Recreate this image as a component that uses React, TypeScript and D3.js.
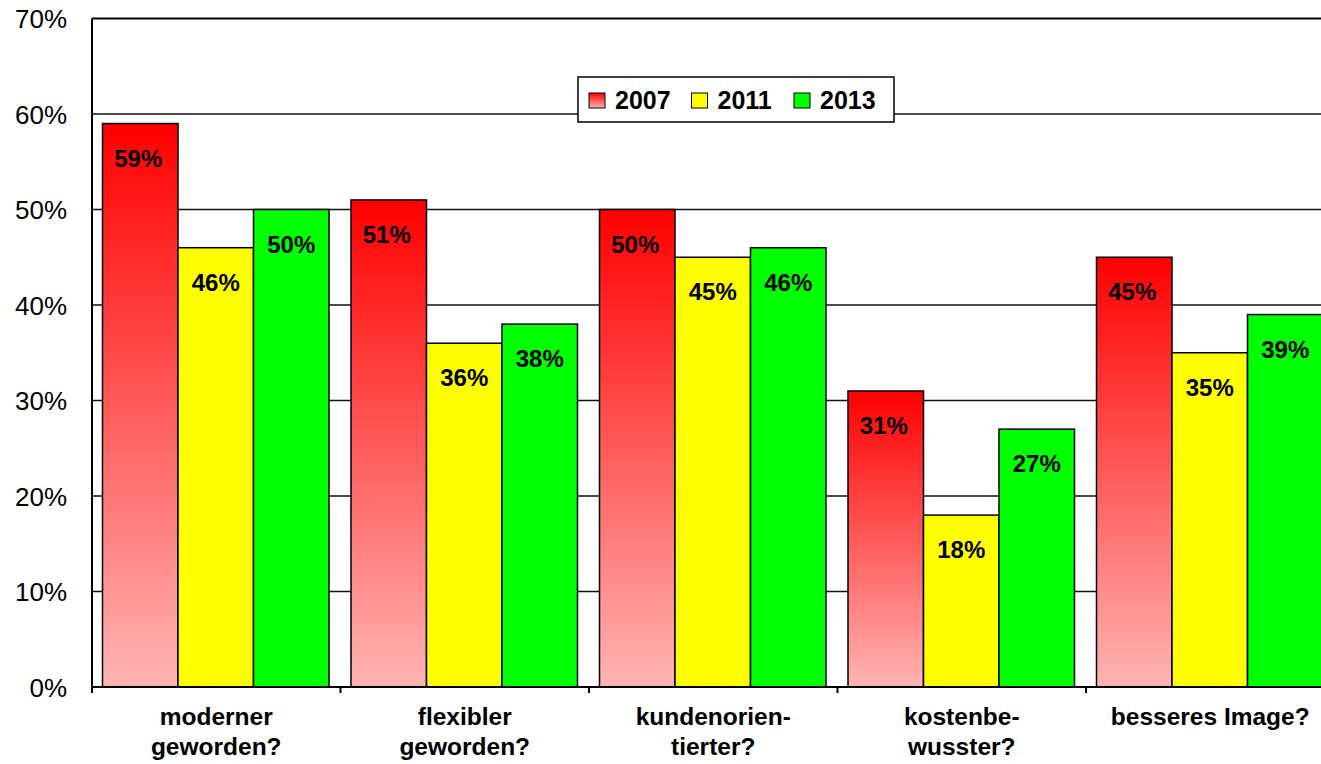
import React from "react";
import * as d3 from "d3";

const categories = ["moderner geworden?", "flexibler geworden?", "kundenorien-tierter?", "kostenbe-wusster?", "besseres Image?"];
const categoryLines = [["moderner", "geworden?"], ["flexibler", "geworden?"], ["kundenorien-", "tierter?"], ["kostenbe-", "wusster?"], ["besseres Image?"]];
const seriesNames = ["2007", "2011", "2013"];
const values2007 = [59, 51, 50, 31, 45];
const values2011 = [46, 36, 45, 18, 35];
const values2013 = [50, 38, 46, 27, 39];
const yTicks = [0, 10, 20, 30, 40, 50, 60, 70];
const seriesFills = ["url(#redGrad)", "#FFFF00", "#00FF00"];

export default function App() {
  const W = 1321, H = 764;
  const left = 92, top = 18.5, bottom = 687;
  const bandW = 248.5;
  const right = left + bandW * categories.length;
  const x = d3.scaleBand<string>().domain(categories).range([left, right]).padding(0);
  const inner = d3.scaleBand<string>().domain(seriesNames).range([10.5, 10.5 + 226.5]).padding(0);
  const y = d3.scaleLinear().domain([0, 70]).range([bottom, top]);
  const seriesValues = [values2007, values2011, values2013];
  const font = "Arial, 'Liberation Sans', sans-serif";

  return (
    <div style={{ position: "fixed", left: 0, top: 0, width: W, height: H, overflow: "hidden", background: "#fff" }}>
      <svg width={W} height={H} style={{ display: "block" }} fontFamily={font}>
        <defs>
          <linearGradient id="redGrad" x1="0" y1="0" x2="0" y2="1">
            <stop offset="0%" stopColor="#FF0000" />
            <stop offset="100%" stopColor="#FFB4B4" />
          </linearGradient>
        </defs>
        {/* gridlines */}
        {yTicks.map((t) => (
          <line key={"g" + t} x1={left} x2={right} y1={y(t)} y2={y(t)} stroke={t === 70 ? "#000" : "#111"} strokeWidth={t === 70 ? 2 : 1.3} />
        ))}
        {/* bars */}
        {categories.map((c, ci) =>
          seriesNames.map((s, si) => {
            const v = seriesValues[si][ci];
            const bx = (x(c) as number) + (inner(s) as number);
            const bw = inner.bandwidth();
            const by = y(v);
            return (
              <g key={c + s}>
                <rect x={bx} y={by} width={bw} height={bottom - by} fill={seriesFills[si]} stroke="#000" strokeWidth={1.5} />
                <text x={bx + bw / 2 - (si === 0 ? 2 : 0)} y={by + 43} textAnchor="middle" fontWeight="bold" fontSize={24} fill="#000">{v}%</text>
              </g>
            );
          })
        )}
        {/* axes */}
        <line x1={left} x2={left} y1={top} y2={bottom + 6} stroke="#000" strokeWidth={2} />
        <line x1={left} x2={right} y1={bottom} y2={bottom} stroke="#000" strokeWidth={2} />
        {categories.map((c) => (
          <line key={"t" + c} x1={x(c) as number} x2={x(c) as number} y1={bottom} y2={bottom + 6} stroke="#000" strokeWidth={2} />
        ))}
        {/* y tick labels */}
        {yTicks.map((t) => (
          <text key={"yl" + t} x={67} y={y(t) + 9.5} textAnchor="end" fontSize={26} fill="#000">{t}%</text>
        ))}
        {/* category labels */}
        {categories.map((c, ci) => (
          <text key={"cl" + c} textAnchor="middle" fontWeight="bold" fontSize={24.5} fill="#000">
            {categoryLines[ci].map((ln, li) => (
              <tspan key={li} x={(x(c) as number) + bandW / 2} y={725 + li * 30}>{ln}</tspan>
            ))}
          </text>
        ))}
        {/* legend */}
        <g>
          <rect x={578} y={77} width={316} height={45} fill="#fff" stroke="#000" strokeWidth={1.5} />
          {seriesNames.map((s, si) => (
            <g key={"lg" + s} transform={`translate(${589 + si * 102.5},0)`}>
              <rect x={0} y={93} width={16} height={15} fill={seriesFills[si]} stroke="#000" strokeWidth={1} />
              <text x={26} y={109} fontWeight="bold" fontSize={25} fill="#000">{s}</text>
            </g>
          ))}
        </g>
      </svg>
    </div>
  );
}
